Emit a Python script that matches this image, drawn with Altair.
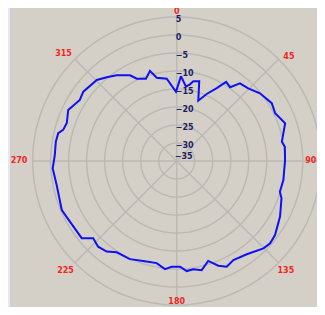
import altair as alt
import pandas as pd

# Measured radiation pattern (azimuth in degrees, gain in dB)
angles_deg = [2.9, 7.1, 9.8, 11.8, 15.8, 19.7, 24.1, 28.8, 32.0, 35.9, 39.2, 44.6,
              50.9, 58.7, 64.1, 70.8, 79.6, 82.5, 89.5, 100.1, 106.6, 109.6, 118.3,
              127.0, 131.4, 135.2, 143.1, 150.2, 154.7, 158.3, 162.5, 167.1, 171.3,
              174.8, 178.2, 182.7, 186.2, 191.1, 198.5, 205.5, 213.3, 217.7, 222.5,
              227.2, 230.9, 240.4, 246.9, 258.7, 266.6, 272.8, 279.1, 283.2, 285.3,
              289.1, 295.2, 302.2, 306.6, 315.4, 320.1, 325.0, 331.4, 334.1, 339.5,
              343.5, 346.5, 353.1, 359.4]
gain_db = [-11.4, -14.2, -13.4, -12.4, -12.0, -17.2, -14.6, -11.9, -9.1, -9.7, -7.2, -6.7,
           -5.2, -4.1, -4.6, -3.1, -5.3, -4.7, -4.9, -4.9, -5.1, -4.1, -2.4,
           -0.8, -0.4, -0.8, -2.6, -3.3, -2.5, -3.7, -5.9, -3.9, -4.6,
           -4.3, -5.6, -5.6, -4.8, -6.1, -5.7, -4.8, -4.65, -3.2, -2.7,
           -3.4, -1.0, -0.9, -0.3, -1.0, -0.5, -1.1, -1.0, -1.2, -2.3,
           -2.7, -1.7, -3.2, -2.7, -3.4, -4.7, -5.9, -7.9, -9.6, -10.6,
           -8.9, -11.2, -12.0, -15.8]

ring_levels = [-30, -25, -20, -15, -10, -5, 0, 5]
spoke_angles = [0, 45, 90, 135, 180, 225, 270, 315]
db_ticks = [5, 0, -5, -10, -15, -20, -25, -30, -35]
angle_label_text = ["0", "45", "90", "135", "180", "225", "270", "315"]

R_MIN = -35  # dB at the centre
R_MAX = 5    # dB at the outer ring
LABEL_R = 42.5  # radius (in dB units above centre) for angle labels

xscale = alt.Scale(domain=[-46.3, 38.97], nice=False, zero=False)
yscale = alt.Scale(domain=[-40.56, 42.5], nice=False, zero=False)

def XY():
    return dict(x=alt.X("px:Q", scale=xscale, axis=None),
                y=alt.Y("py:Q", scale=yscale, axis=None))

GRID = "#BBB9B4"

# ---- grid rings
ring_df = pd.DataFrame([{"level": lv, "ang": a} for lv in ring_levels for a in range(0, 361, 2)])
rings = alt.Chart(ring_df).transform_calculate(
    px=f"(datum.level - ({R_MIN})) * sin(datum.ang * PI / 180)",
    py=f"(datum.level - ({R_MIN})) * cos(datum.ang * PI / 180)",
).mark_line(color=GRID, strokeWidth=1.5, clip=True).encode(
    **XY(), detail="level:N", order="ang:Q")

# ---- spokes
spoke_df = pd.DataFrame({"ang": spoke_angles})
spokes = alt.Chart(spoke_df).transform_calculate(
    px="0", py="0",
    px2=f"({R_MAX} - ({R_MIN})) * sin(datum.ang * PI / 180)",
    py2=f"({R_MAX} - ({R_MIN})) * cos(datum.ang * PI / 180)",
).mark_rule(color=GRID, strokeWidth=1.5, clip=True).encode(
    **XY(), x2="px2:Q", y2="py2:Q")

# ---- dB labels along the 0 deg spoke
tick_df = pd.DataFrame({"db": db_ticks})
tick_base = alt.Chart(tick_df).transform_calculate(
    px="0", py=f"datum.db - ({R_MIN})")
tick_style = dict(align="left", baseline="middle", font="DejaVu Sans",
                  fontWeight="bold", fontSize=8, color="#1E1E64")
ticks_main = tick_base.transform_filter(f"datum.db > {R_MIN}").mark_text(
    dx=-1, dy=3, **tick_style).encode(**XY(), text="db:Q")
ticks_centre = tick_base.transform_filter(f"datum.db == {R_MIN}").mark_text(
    dx=-2, dy=-4, **tick_style).encode(**XY(), text="db:Q")

# ---- angle labels
lab_df = pd.DataFrame({"ang": spoke_angles, "txt": angle_label_text})
offsets = {"0": (0, 4), "45": (4, 4), "90": (-19, 0), "135": (1, 1.5),
           "180": (0, -12), "225": (-3, 1.5), "270": (-4.7, 0), "315": (-5, 1)}
lab_layers = []
for t in angle_label_text:
    dx, dy = offsets[t]
    lab_layers.append(
        alt.Chart(lab_df).transform_filter(f"datum.txt == '{t}'").transform_calculate(
            px=f"{LABEL_R} * sin(datum.ang * PI / 180)",
            py=f"{LABEL_R} * cos(datum.ang * PI / 180)",
        ).mark_text(align="center", baseline="middle", font="DejaVu Sans",
                    fontWeight="bold", fontSize=8, color="#F02525", dx=dx, dy=dy
        ).encode(**XY(), text="txt:N"))

# ---- pattern line (closed loop)
pat = pd.DataFrame({"ang": angles_deg + [angles_deg[0]],
                    "gain": gain_db + [gain_db[0]]})
pat["idx"] = range(len(pat))
pattern = alt.Chart(pat).transform_calculate(
    px=f"(datum.gain - ({R_MIN})) * sin(datum.ang * PI / 180)",
    py=f"(datum.gain - ({R_MIN})) * cos(datum.ang * PI / 180)",
).mark_line(color="#1010F5", strokeWidth=2).encode(**XY(), order="idx:Q")

chart = alt.layer(rings, spokes, ticks_main, ticks_centre, *lab_layers, pattern).properties(
    width=307, height=299,
    autosize=alt.AutoSizeParams(type="none"),
    padding={"left": 2, "top": 0, "right": 0, "bottom": 0},
    background="#E6E6FA",
).configure_view(fill="#D4D0C8", strokeWidth=0)

chart.save("out.html", embed_options={"renderer": "svg", "actions": False})
